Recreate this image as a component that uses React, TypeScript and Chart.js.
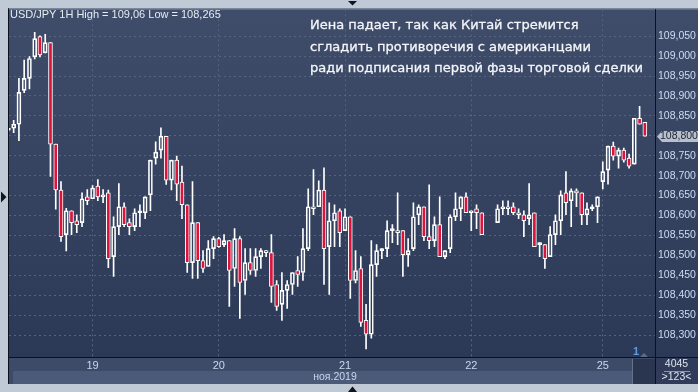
import React, { useEffect, useRef } from 'react';
import { Chart, registerables } from 'chart.js';

Chart.register(...registerables);

// ---- data (hourly candles, index = hour slot) ----
const CANDLE_INDEX = [
  0, 1, 2, 3, 4, 5, 6, 7, 8, 9, 10, 11, 12, 13, 14, 15, 16, 17, 18, 19,
  20, 21, 22, 23, 24, 25, 26, 27, 28, 29, 30, 31, 32, 33, 34, 35, 36, 37, 38, 39,
  40, 41, 42, 43, 44, 45, 46, 47, 48, 49, 50, 51, 52, 53, 54, 55, 56, 57, 58, 59,
  60, 61, 62, 63, 64, 65, 66, 67, 68, 69, 70, 71, 72, 73, 74, 75, 76, 77, 78, 79,
  80, 81, 82, 83, 84, 85, 86, 87, 88, 89, 90, 93, 94, 95, 96, 97, 98, 99,
  100, 101, 102, 103, 104, 105, 106, 107, 108, 109, 110, 111, 112, 113, 114, 115, 116, 117, 118, 119,
  120, 121,
];
const OPEN = [
  108.814, 108.819, 108.829, 108.914, 108.944, 108.998, 109.049, 109.008, 109.034, 108.779, 108.664, 108.552, 108.612, 108.587, 108.582, 108.647, 108.642, 108.674, 108.647, 108.657,
  108.497, 108.572, 108.622, 108.582, 108.572, 108.607, 108.607, 108.652, 108.744, 108.764, 108.799, 108.689, 108.739, 108.684, 108.627, 108.482, 108.582, 108.487, 108.472, 108.517,
  108.542, 108.527, 108.537, 108.467, 108.542, 108.437, 108.482, 108.462, 108.497, 108.512, 108.507, 108.427, 108.377, 108.412, 108.427, 108.462, 108.457, 108.517, 108.622, 108.622,
  108.664, 108.522, 108.587, 108.612, 108.562, 108.597, 108.437, 108.467, 108.337, 108.302, 108.477, 108.512, 108.517, 108.562, 108.562, 108.562, 108.502, 108.517, 108.602, 108.622,
  108.547, 108.537, 108.577, 108.497, 108.517, 108.597, 108.617, 108.647, 108.607, 108.617, 108.607, 108.582, 108.617, 108.622, 108.622, 108.607, 108.602, 108.592,
  108.607, 108.527, 108.527, 108.497, 108.552, 108.587, 108.657, 108.637, 108.662, 108.657, 108.602, 108.617, 108.622, 108.685, 108.714, 108.774, 108.749, 108.764, 108.744, 108.729,
  108.844, 108.834,
];
const HIGH = [
  108.816, 108.839, 108.944, 108.990, 108.999, 109.060, 109.051, 109.055, 109.034, 108.779, 108.685, 108.618, 108.612, 108.602, 108.657, 108.665, 108.675, 108.690, 108.665, 108.664,
  108.597, 108.680, 108.632, 108.592, 108.617, 108.627, 108.647, 108.739, 108.785, 108.820, 108.799, 108.739, 108.749, 108.724, 108.627, 108.685, 108.582, 108.512, 108.537, 108.547,
  108.545, 108.552, 108.537, 108.567, 108.547, 108.517, 108.517, 108.517, 108.517, 108.512, 108.552, 108.437, 108.457, 108.437, 108.457, 108.497, 108.567, 108.667, 108.715, 108.687,
  108.720, 108.632, 108.627, 108.617, 108.617, 108.597, 108.512, 108.497, 108.377, 108.537, 108.527, 108.517, 108.587, 108.577, 108.657, 108.562, 108.542, 108.632, 108.627, 108.622,
  108.677, 108.597, 108.647, 108.512, 108.602, 108.657, 108.647, 108.657, 108.612, 108.627, 108.607, 108.627, 108.637, 108.637, 108.632, 108.617, 108.612, 108.680,
  108.607, 108.532, 108.527, 108.572, 108.602, 108.662, 108.710, 108.667, 108.667, 108.657, 108.632, 108.627, 108.647, 108.735, 108.774, 108.784, 108.769, 108.769, 108.754, 108.844,
  108.874, 108.834,
];
const LOW = [
  108.812, 108.808, 108.788, 108.908, 108.918, 108.993, 108.998, 109.008, 108.698, 108.616, 108.535, 108.511, 108.552, 108.557, 108.572, 108.627, 108.642, 108.637, 108.632, 108.469,
  108.447, 108.552, 108.572, 108.552, 108.562, 108.572, 108.592, 108.612, 108.729, 108.744, 108.678, 108.664, 108.637, 108.592, 108.457, 108.442, 108.442, 108.457, 108.472, 108.492,
  108.520, 108.522, 108.372, 108.422, 108.342, 108.402, 108.452, 108.447, 108.467, 108.497, 108.382, 108.362, 108.337, 108.367, 108.402, 108.422, 108.437, 108.512, 108.602, 108.622,
  108.427, 108.402, 108.522, 108.522, 108.562, 108.392, 108.431, 108.322, 108.265, 108.292, 108.447, 108.492, 108.497, 108.532, 108.527, 108.447, 108.472, 108.512, 108.577, 108.537,
  108.517, 108.522, 108.497, 108.492, 108.507, 108.587, 108.587, 108.607, 108.562, 108.567, 108.552, 108.582, 108.602, 108.602, 108.602, 108.592, 108.547, 108.577,
  108.522, 108.497, 108.467, 108.497, 108.527, 108.552, 108.602, 108.572, 108.622, 108.577, 108.577, 108.612, 108.582, 108.667, 108.679, 108.739, 108.719, 108.734, 108.719, 108.729,
  108.829, 108.799,
];
const CLOSE = [
  108.814, 108.829, 108.909, 108.944, 108.994, 109.044, 109.003, 109.034, 108.779, 108.664, 108.547, 108.612, 108.582, 108.577, 108.642, 108.637, 108.669, 108.647, 108.652, 108.492,
  108.572, 108.622, 108.577, 108.572, 108.607, 108.607, 108.647, 108.739, 108.759, 108.799, 108.689, 108.739, 108.679, 108.627, 108.482, 108.582, 108.487, 108.467, 108.517, 108.542,
  108.522, 108.537, 108.462, 108.542, 108.432, 108.482, 108.462, 108.497, 108.512, 108.507, 108.422, 108.372, 108.412, 108.427, 108.457, 108.452, 108.517, 108.622, 108.617, 108.664,
  108.517, 108.587, 108.607, 108.557, 108.597, 108.437, 108.462, 108.332, 108.302, 108.477, 108.512, 108.512, 108.562, 108.562, 108.557, 108.502, 108.512, 108.597, 108.622, 108.547,
  108.537, 108.577, 108.497, 108.512, 108.597, 108.617, 108.647, 108.607, 108.612, 108.607, 108.552, 108.617, 108.622, 108.617, 108.607, 108.602, 108.587, 108.602,
  108.522, 108.527, 108.492, 108.552, 108.587, 108.652, 108.632, 108.662, 108.657, 108.602, 108.617, 108.617, 108.647, 108.710, 108.774, 108.749, 108.764, 108.739, 108.724, 108.844,
  108.829, 108.799,
];

const Y_TICKS = [108.3, 108.35, 108.4, 108.45, 108.5, 108.55, 108.6, 108.65, 108.7, 108.75, 108.8, 108.85, 108.9, 108.95, 109.0, 109.05];
const DAY_TICK_INDEX = [16, 40, 64, 88, 113];
const DAY_TICK_LABELS = ['19', '20', '21', '22', '25'];
const MONTH_LABEL = 'ноя.2019';
const CURRENT_PRICE = 108.8;
const CURRENT_PRICE_LABEL = '108,800';
const TITLE = 'USD/JPY 1H High = 109,06 Low = 108,265';
const NOTE_LINES = [
  'Иена падает, так как Китай стремится',
  'сгладить противоречия с американцами',
  'ради подписания первой фазы торговой сделки',
];
const BAR_COUNT_LABEL = '4045';
const VISIBLE_LABEL = '>123<';
const PAGE_LABEL = '1';

const X_MIN = 0.114;
const X_MAX = 122.93;
const Y_MIN = 108.245;
const Y_MAX = 109.1175;

const RED = '#dc143c';
const GRID = '#56647f';
const AXIS_TEXT = '#cddcf2';
const AXIS_FONT = "'Liberation Sans Narrow', 'Liberation Sans', Arial, sans-serif";

const fmt = (v: number) => v.toFixed(3).replace('.', ',');

const framePlugin = {
  id: 'frame',
  beforeDraw(chart: any) {
    const { ctx, chartArea: ca, width } = chart;
    ctx.save();
    ctx.fillStyle = '#c0cad7';
    ctx.fillRect(0, 0, chart.width, chart.height);
    const g = ctx.createLinearGradient(0, ca.top, 0, ca.bottom);
    g.addColorStop(0, '#404d6a');
    g.addColorStop(1, '#2c3956');
    ctx.fillStyle = g;
    ctx.fillRect(ca.left, ca.top, width - ca.left, ca.bottom - ca.top);
    ctx.fillStyle = '#3e4b68';
    ctx.fillRect(ca.left, ca.bottom, ca.right - ca.left, 27);
    ctx.fillStyle = '#4b5a78';
    ctx.fillRect(ca.left + 4, ca.bottom + 14, ca.right - ca.left - 4, 13);
    ctx.fillStyle = '#2f3b58';
    ctx.fillRect(ca.right, ca.bottom, width - ca.right, 27);
    ctx.restore();
  },
  afterDraw(chart: any) {
    const { ctx, chartArea: ca, width, height } = chart;
    const yS = chart.scales.y;
    ctx.save();
    // borders
    ctx.fillStyle = '#5d6a80';
    ctx.fillRect(ca.left - 1, ca.top - 1, width - ca.left + 1, 1);
    ctx.fillStyle = '#0d1119';
    ctx.fillRect(ca.left - 1, ca.top - 1, 1, ca.bottom + 28 - ca.top);
    ctx.fillRect(ca.right, ca.top, 1, ca.bottom + 27 - ca.top);
    ctx.fillRect(ca.left, ca.bottom, width - ca.left, 1);

    // current price tag
    const py = Math.round(yS.getPixelForValue(CURRENT_PRICE)) + 0.5;
    ctx.fillStyle = '#b8c0cd';
    ctx.beginPath();
    ctx.moveTo(ca.right + 2, py);
    ctx.lineTo(ca.right + 7, py - 5.5);
    ctx.lineTo(width, py - 5.5);
    ctx.lineTo(width, py + 5.5);
    ctx.lineTo(ca.right + 7, py + 5.5);
    ctx.closePath();
    ctx.fill();
    ctx.font = `10.5px ${AXIS_FONT}`;
    ctx.textBaseline = 'middle';
    ctx.textAlign = 'left';
    ctx.fillStyle = '#1e2431';
    ctx.fillText(CURRENT_PRICE_LABEL, ca.right + 5, py);

    // bottom-right info box
    ctx.fillStyle = '#8d98ab';
    ctx.fillRect(ca.right + 9, ca.bottom + 14, 26, 1);
    ctx.fillStyle = '#dde4ee';
    ctx.textAlign = 'center';
    ctx.font = `10.5px ${AXIS_FONT}`;
    ctx.fillText(BAR_COUNT_LABEL, ca.right + 21.5, ca.bottom + 7.5);
    ctx.fillText(VISIBLE_LABEL, ca.right + 21.5, ca.bottom + 20.5);

    // scroll box and page label
    ctx.fillStyle = '#2a3550';
    ctx.fillRect(ca.right - 22, ca.bottom + 2, 22, 25);
    ctx.fillStyle = '#66728a';
    ctx.fillRect(ca.right - 23, ca.bottom + 2, 1, 25);
    ctx.fillStyle = '#5f6b82';
    ctx.beginPath();
    ctx.moveTo(ca.right - 15, ca.bottom);
    ctx.lineTo(ca.right - 11, ca.bottom - 4);
    ctx.lineTo(ca.right - 7, ca.bottom);
    ctx.closePath();
    ctx.fill();
    ctx.fillStyle = '#5c9ae6';
    ctx.font = `bold 11px 'Liberation Sans', Arial, sans-serif`;
    ctx.textAlign = 'left';
    ctx.fillText(PAGE_LABEL, ca.right - 22, ca.bottom - 5);

    // month label
    ctx.fillStyle = '#c6d8f2';
    ctx.font = `10.5px 'Liberation Sans', Arial, sans-serif`;
    ctx.textAlign = 'center';
    ctx.fillText(MONTH_LABEL, 335, ca.bottom + 20.5);

    // navigation triangles
    ctx.fillStyle = '#10141c';
    ctx.beginPath();
    ctx.moveTo(348, 1); ctx.lineTo(357, 1); ctx.lineTo(352.5, 5.5); ctx.closePath(); ctx.fill();
    ctx.beginPath();
    ctx.moveTo(348, height); ctx.lineTo(357, height); ctx.lineTo(352.5, height - 5.5); ctx.closePath(); ctx.fill();
    ctx.beginPath();
    ctx.moveTo(1, 191.5); ctx.lineTo(1, 202.5); ctx.lineTo(6.5, 197); ctx.closePath(); ctx.fill();
    ctx.restore();
  },
};

export default function App() {
  const ref = useRef<HTMLCanvasElement>(null);

  useEffect(() => {
    const canvas = ref.current;
    if (!canvas) return;
    const bodies = CANDLE_INDEX.map((x, k) => ({ x, y: [OPEN[k], CLOSE[k]] }));
    const upper = CANDLE_INDEX.map((x, k) => ({ x, y: [Math.max(OPEN[k], CLOSE[k]), HIGH[k]] }));
    const lower = CANDLE_INDEX.map((x, k) => ({ x, y: [LOW[k], Math.min(OPEN[k], CLOSE[k])] }));
    const bodyColors = CANDLE_INDEX.map((_, k) => (CLOSE[k] < OPEN[k] ? RED : 'rgba(0,0,0,0)'));

    const chart = new Chart(canvas, {
      type: 'bar',
      data: {
        datasets: [
          {
            data: bodies as any,
            backgroundColor: bodyColors,
            borderColor: '#ffffff',
            borderWidth: 1,
            borderSkipped: false,
            barThickness: 4,
            minBarLength: 2,
            grouped: false,
            order: 0,
          } as any,
          {
            data: upper as any,
            backgroundColor: '#ffffff',
            borderWidth: 0,
            barThickness: 1,
            grouped: false,
            order: 1,
          } as any,
          {
            data: lower as any,
            backgroundColor: '#ffffff',
            borderWidth: 0,
            barThickness: 1,
            grouped: false,
            order: 2,
          } as any,
        ],
      },
      options: {
        responsive: false,
        animation: false,
        events: [],
        layout: { padding: { left: 9, top: 8, right: 0, bottom: 0 } },
        plugins: { legend: { display: false }, tooltip: { enabled: false } },
        scales: {
          x: {
            type: 'linear',
            min: X_MIN,
            max: X_MAX,
            offset: false,
            grid: { offset: false, color: GRID, lineWidth: 1, drawTicks: false },
            border: { display: false, dash: [2, 3] },
            ticks: {
              autoSkip: false,
              maxRotation: 0,
              padding: 2,
              color: '#c6d8f2',
              font: { family: "'Liberation Sans', Arial, sans-serif", size: 11 },
              callback: (v: any) => {
                const k = DAY_TICK_INDEX.indexOf(Number(v));
                return k >= 0 ? DAY_TICK_LABELS[k] : '';
              },
            },
            afterBuildTicks: (s: any) => {
              s.ticks = DAY_TICK_INDEX.map((value) => ({ value }));
            },
            afterFit: (s: any) => {
              s.height = 35;
            },
          },
          y: {
            position: 'right',
            min: Y_MIN,
            max: Y_MAX,
            grid: { color: GRID, lineWidth: 1, drawTicks: false },
            border: { display: false, dash: [2, 3] },
            ticks: {
              padding: 3,
              color: AXIS_TEXT,
              font: { family: AXIS_FONT, size: 10.5 },
              callback: (v: any) => (Math.abs(Number(v) - CURRENT_PRICE) < 1e-6 ? '' : fmt(Number(v))),
            },
            afterBuildTicks: (s: any) => {
              s.ticks = Y_TICKS.map((value) => ({ value }));
            },
            afterFit: (s: any) => {
              s.width = 43;
            },
          },
        } as any,
      },
      plugins: [framePlugin],
    });
    return () => chart.destroy();
  }, []);

  return (
    <div style={{ position: 'absolute', left: 0, top: 0, width: 698, height: 392, overflow: 'hidden' }}>
      <canvas ref={ref} width={698} height={392} style={{ display: 'block', width: 698, height: 392 }} />
      <div
        style={{
          position: 'absolute',
          left: 10,
          top: 8,
          font: "11px 'Liberation Sans', Arial, sans-serif",
          lineHeight: '13px',
          color: '#e6ebf3',
          whiteSpace: 'nowrap',
        }}
      >
        {TITLE}
      </div>
      <div
        style={{
          position: 'absolute',
          left: 310,
          top: 14,
          font: "13px 'DejaVu Sans', sans-serif",
          lineHeight: '21.7px',
          color: '#f4f6fa',
          whiteSpace: 'nowrap',
          WebkitTextStroke: '0.3px #f4f6fa',
        }}
      >
        {NOTE_LINES.map((t, i) => (
          <div key={i}>{t}</div>
        ))}
      </div>
    </div>
  );
}
